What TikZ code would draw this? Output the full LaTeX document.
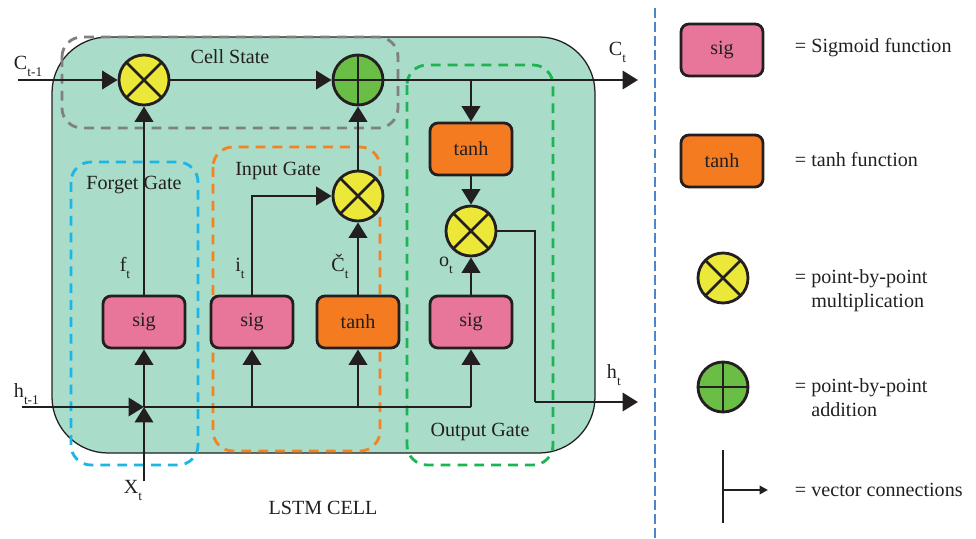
\documentclass[tikz,border=0pt]{standalone}
\usepackage{fontspec}
\setmainfont{Liberation Serif}
\usetikzlibrary{arrows.meta,positioning}
\definecolor{ink}{HTML}{231F20}
\definecolor{cellbg}{HTML}{A9DCC9}
\definecolor{sigpink}{HTML}{E8769A}
\definecolor{tanhorange}{HTML}{F47B20}
\definecolor{multyellow}{HTML}{EBE83A}
\definecolor{addgreen}{HTML}{6BBE45}
\definecolor{cellgray}{HTML}{808080}
\definecolor{forgetcyan}{HTML}{1CB5E8}
\definecolor{inputorange}{HTML}{F58220}
\definecolor{outputgreen}{HTML}{1DB454}
\definecolor{divider}{HTML}{4A86C8}
% low, small subscript for the signal names
\newcommand{\lowsub}[1]{\raisebox{-5pt}{\fontsize{9.5}{10}\selectfont #1}}

\begin{document}
\begin{tikzpicture}[x=0.025cm,y=-0.025cm,
  font=\fontsize{14.3}{17}\selectfont,text=ink,
  wire/.style={draw=ink,line width=2pt},
  conn/.style={wire,-{Triangle[length=11pt,width=13pt]}},
  fbox/.style={draw=ink,line width=2pt,rounded corners=0.2cm,minimum width=2.05cm,minimum height=1.3cm},
  sigbox/.style={fbox,fill=sigpink},
  tanhbox/.style={fbox,fill=tanhorange},
  opnode/.style={circle,draw=ink,line width=2pt,minimum size=1.25cm,inner sep=0pt},
  mult/.style={opnode,fill=multyellow,path picture={
    \draw[ink,line width=2pt] (path picture bounding box.north west)--(path picture bounding box.south east)
      (path picture bounding box.north east)--(path picture bounding box.south west);}},
  add/.style={opnode,fill=addgreen,path picture={
    \draw[ink,line width=2pt] (path picture bounding box.north)--(path picture bounding box.south)
      (path picture bounding box.west)--(path picture bounding box.east);}},
  gate/.style={line width=2pt,dash pattern=on 7pt off 5pt,rounded corners=0.5cm},
]
\useasboundingbox (0,0) rectangle (976,539);

% cell body and gate regions
\draw[fill=cellbg,draw=ink,line width=0.9pt,rounded corners=1.4cm] (52,37) rectangle (595,453);
\draw[gate,draw=cellgray] (62,37) rectangle (398,128);
\draw[gate,draw=forgetcyan] (71,162) rectangle (198,465);
\draw[gate,draw=inputorange] (213,147) rectangle (380,451);
\draw[gate,draw=outputgreen] (407,65) rectangle (553,465);
\node (cslabel) at (230,57) {Cell State};
\node (fglabel) at (134,185) {Forget Gate};
\node (iglabel) at (278,171) {Input Gate};
\node (oglabel) at (480,432) {Output Gate};
\node (celllabel) at (323,508) {LSTM CELL};

% operations
\node[mult] (mulf) at (144,80) {};
\node[add] (addc) at (358,80) {};
\node[mult] (muli) at (358,196) {};
\node[mult] (mulo) at (471,231) {};
\node[sigbox] (sigf) at (144,322) {sig};
\node[sigbox] (sigi) at (252,322) {sig};
\node[tanhbox] (tanhi) at (358,322) {tanh};
\node[sigbox] (sigo) at (471,322) {sig};
\node[tanhbox] (tanho) at (471,149) {tanh};

% inputs and outputs
\coordinate (cin) at (18,80);
\coordinate (cout) at (638,80);
\coordinate (tap) at (471,80);
\coordinate (hin) at (22,407);
\coordinate (xin) at (144,481);
\coordinate (junc) at (144,407);
\coordinate (hend) at (471,407);
\coordinate (hbend) at (535,402);
\coordinate (hout) at (638,402);
\node[anchor=west] (cinlabel) at (9,66) {C\lowsub{t-1}};
\node[anchor=west] (coutlabel) at (604,52) {C\lowsub{t}};
\node[anchor=west] (hinlabel) at (9,394) {h\lowsub{t-1}};
\node[anchor=west] (houtlabel) at (602,375) {h\lowsub{t}};
\node (xlabel) at (133,490) {X\lowsub{t}};
\node (flabel) at (125,268) {f\lowsub{t}};
\node (ilabel) at (240,268) {i\lowsub{t}};
\node (clabel) at (340,266) {Č\lowsub{t}};
\node (olabel) at (446,265) {o\lowsub{t}};

% cell state path
\draw[conn] (cin) -- (mulf);
\draw[conn] (mulf) -- (addc);
\draw[conn] (addc) -- (cout);
\draw[conn] (tap) -- (tanho);
\draw[conn] (tanho) -- (mulo);
\draw[wire] (mulo) -| (hbend);
\draw[conn] (hbend) -- (hout);

% hidden state and input
\draw[conn] (hin) -- (junc);
\draw[conn] (xin) -- (junc);
\draw[conn] (junc) -- (sigf);
\draw[wire] (junc) -- (hend);
\draw[conn] (hend) -- (sigo);
\foreach \g in {sigi,tanhi}
  \draw[conn] (\g |- junc) -- (\g);

% gate outputs
\draw[conn] (sigf) -- (mulf);
\draw[conn] (sigi) |- (muli);
\draw[conn] (tanhi) -- (muli);
\draw[conn] (muli) -- (addc);
\draw[conn] (sigo) -- (mulo);

% legend
\draw[divider,line width=2pt,dash pattern=on 7pt off 3pt] (655,8) -- (655,539);
\node[sigbox] (legsig) at (722,50) {sig};
\node[tanhbox] (legtanh) at (722,161) {tanh};
\node[mult] (legmult) at (723,278) {};
\node[add] (legadd) at (723,387) {};
\coordinate (vtop) at (723,450);
\coordinate (vbot) at (723,523);
\coordinate (vmid) at (723,490);
\coordinate (vtip) at (768,490);
\draw[wire] (vtop) -- (vbot);
\draw[draw=ink,line width=1.6pt,-{Triangle[length=6pt,width=6pt]}] (vmid) -- (vtip);
\node[anchor=west] (legsigtext) at (790,48) {= Sigmoid function};
\node[anchor=west] (legtanhtext) at (790,160) {= tanh function};
\node[anchor=west,align=left] (legmulttext) at (790,291) {= point-by-point\\\hphantom{= }multiplication};
\node[anchor=west,align=left] (legaddtext) at (790,398) {= point-by-point\\\hphantom{= }addition};
\node[anchor=west] (legvectext) at (790,490) {= vector connections};
\end{tikzpicture}
\end{document}
